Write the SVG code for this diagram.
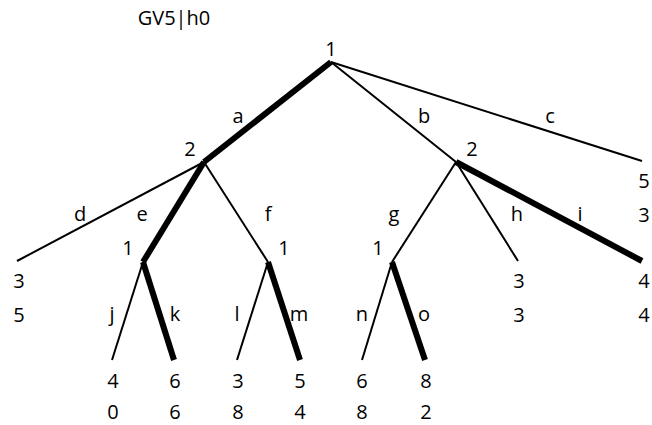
<svg xmlns="http://www.w3.org/2000/svg" width="652" height="425" viewBox="0 0 652 425">
  <style>
    text { font-family: "Open Sans", "Liberation Sans", sans-serif; font-size: 20px; fill: #000; text-anchor: middle; }
    .edge { stroke: #000; stroke-width: 2; fill: none; }
    .best { stroke: #000; stroke-width: 6; fill: none; }
  </style>
  <rect width="652" height="425" fill="#fff"/>

  <text id="title" x="174" y="25">GV5|h0</text>

  <!-- branches of the game tree; heavy strokes mark the chosen moves -->
  <g id="connectors">
    <line class="best" x1="331" y1="62" x2="204" y2="162"/>
    <line class="edge" x1="331" y1="62" x2="456" y2="162"/>
    <line class="edge" x1="331" y1="62" x2="642" y2="161"/>

    <line class="edge" x1="204" y1="162" x2="17" y2="261"/>
    <line class="best" x1="204" y1="162" x2="143" y2="262"/>
    <line class="edge" x1="204" y1="162" x2="268" y2="262"/>

    <line class="edge" x1="456" y1="162" x2="392" y2="262"/>
    <line class="edge" x1="456" y1="162" x2="518" y2="261"/>
    <line class="best" x1="456" y1="162" x2="642" y2="261"/>

    <line class="edge" x1="143" y1="262" x2="112" y2="360"/>
    <line class="best" x1="143" y1="262" x2="174" y2="360"/>
    <line class="edge" x1="268" y1="262" x2="237" y2="360"/>
    <line class="best" x1="268" y1="262" x2="300" y2="360"/>
    <line class="edge" x1="392" y1="262" x2="362" y2="360"/>
    <line class="best" x1="392" y1="262" x2="425" y2="360"/>

    <!-- move labels -->
    <text x="238" y="123">a</text>
    <text x="424" y="123">b</text>
    <text x="550" y="123">c</text>
    <text x="80" y="221">d</text>
    <text x="142" y="221">e</text>
    <text x="268" y="221">f</text>
    <text x="394" y="221">g</text>
    <text x="517" y="221">h</text>
    <text x="580" y="221">i</text>
    <text x="112" y="321">j</text>
    <text x="175" y="321">k</text>
    <text x="237" y="321">l</text>
    <text x="299" y="321">m</text>
    <text x="362" y="321">n</text>
    <text x="424" y="321">o</text>
  </g>

  <!-- decision nodes with the player to move -->
  <g id="root"><text x="331" y="56">1</text></g>
  <g id="node-a"><text x="190" y="156">2</text></g>
  <g id="node-b"><text x="472" y="156">2</text></g>
  <g id="node-e"><text x="128" y="255">1</text></g>
  <g id="node-f"><text x="284" y="255">1</text></g>
  <g id="node-g"><text x="378" y="255">1</text></g>

  <!-- terminal nodes with payoffs (player 1, player 2) -->
  <g id="leaf-c"><text x="644" y="188">5</text><text x="644" y="222">3</text></g>
  <g id="leaf-d"><text x="19" y="288">3</text><text x="19" y="322">5</text></g>
  <g id="leaf-h"><text x="519" y="288">3</text><text x="519" y="322">3</text></g>
  <g id="leaf-i"><text x="644" y="288">4</text><text x="644" y="322">4</text></g>
  <g id="leaf-j"><text x="113" y="388">4</text><text x="113" y="419">0</text></g>
  <g id="leaf-k"><text x="175" y="388">6</text><text x="175" y="419">6</text></g>
  <g id="leaf-l"><text x="238" y="388">3</text><text x="238" y="419">8</text></g>
  <g id="leaf-m"><text x="300" y="388">5</text><text x="300" y="419">4</text></g>
  <g id="leaf-n"><text x="362" y="388">6</text><text x="362" y="419">8</text></g>
  <g id="leaf-o"><text x="426" y="388">8</text><text x="426" y="419">2</text></g>
</svg>
